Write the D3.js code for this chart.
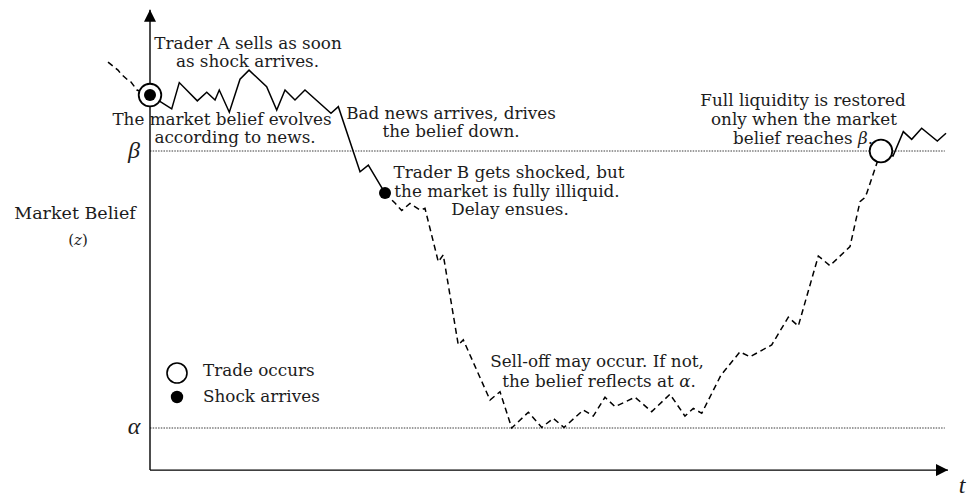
<!DOCTYPE html>
<html>
<head>
<meta charset="utf-8">
<script src="https://cdn.jsdelivr.net/npm/d3@7"></script>
<style>
  body { margin: 0; background: #fff; }
  svg text { font-family: "DejaVu Serif", "Liberation Serif", serif; fill: #1c1c1c; }
  svg text.wisk { font-family: "Liberation Serif", "DejaVu Serif", serif; }
</style>
</head>
<body>
<svg id="chart" width="969" height="498"></svg>
<script>
// drempels voor de belief
var alpha = 0, beta = 1;
var tMax = 100, zMin = -0.152, zMax = 1.51;

// stukje voor t = 0 (gestippeld)
var leadT = [-5.26, -4.01, -3.63, -2.76, -2.38, -1.63, 0];
var leadZ = [1.321, 1.292, 1.278, 1.256, 1.249, 1.220, 1.202];

// belief volgt het nieuws (doorgetrokken)
var newsT = [0, 2.72, 3.67, 5.93, 7.11, 8.15, 8.68, 9.94, 11.28, 12.41, 14.62, 15.88, 16.92, 18.17, 19.42, 22.68, 23.60, 26.32, 27.36, 29.45];
var newsZ = [1.202, 1.152, 1.247, 1.181, 1.212, 1.184, 1.220, 1.140, 1.259, 1.292, 1.232, 1.148, 1.220, 1.184, 1.220, 1.136, 1.160, 0.925, 0.949, 0.848];

// markt illiquide (gestippeld)
var illiqT = [29.45, 30.70, 31.54, 32.58, 33.83, 34.46, 36.13, 36.75, 38.63, 39.26, 42.61, 43.86, 45.33, 47.41, 49.09, 50.54, 51.88, 54.30, 55.55, 57.02, 58.27, 60.78, 62.87, 65.16, 67.04, 68.08, 69.14, 71.55, 73.93, 75.19, 77.91, 79.99, 81.24, 83.75, 85.21, 87.72, 88.97, 89.47, 89.81, 91.60];
var illiqZ = [0.848, 0.812, 0.785, 0.811, 0.787, 0.793, 0.600, 0.625, 0.300, 0.318, 0.101, 0.131, 0.000, 0.057, 0.002, 0.035, 0.002, 0.065, 0.043, 0.111, 0.077, 0.111, 0.059, 0.122, 0.043, 0.071, 0.053, 0.191, 0.275, 0.257, 0.300, 0.400, 0.368, 0.621, 0.586, 0.655, 0.817, 0.829, 0.847, 1.000];

// liquiditeit hersteld (doorgetrokken)
var liquidT = [91.60, 93.11, 94.40, 95.45, 96.70, 98.66, 99.75];
var liquidZ = [1.000, 0.982, 1.070, 1.042, 1.082, 1.036, 1.064];

// momenten van trade en shock
var tradeT = [0, 91.60], tradeZ = [1.202, 1.000];
var shockT = [0, 29.45], shockZ = [1.202, 0.848];

// teksten
var legendLabels = ["Trade occurs", "Shock arrives"];
var noteTraderA = ["Trader A sells as soon", "as shock arrives."];
var noteEvolves = ["The market belief evolves", "according to news."];
var noteBadNews = ["Bad news arrives, drives", "the belief down."];
var noteTraderB = ["Trader B gets shocked, but", "the market is fully illiquid.", "Delay ensues."];
var noteSellOff = ["Sell-off may occur. If not,", "the belief reflects at "];
var noteLiquid = ["Full liquidity is restored", "only when the market", "belief reaches "];

var svg = d3.select("#chart");
var fs = "16.8px";

// schalen
var x = d3.scaleLinear().domain([0, tMax]).range([150, 948]);
var y = d3.scaleLinear().domain([alpha, beta]).range([428, 151]);

function pts(ts, zs) {
  return ts.map(function(t, i) { return [t, zs[i]]; });
}
var line = d3.line()
  .x(function(d) { return x(d[0]); })
  .y(function(d) { return y(d[1]); });

// alpha en beta lijnen
[alpha, beta].forEach(function(v) {
  svg.append("line")
    .attr("x1", x(0)).attr("x2", x(99.6))
    .attr("y1", y(v)).attr("y2", y(v))
    .attr("stroke", "#222").attr("stroke-width", 0.9)
    .attr("stroke-dasharray", "1.5,1.2");
});

// assen
var defs = svg.append("defs");
defs.append("marker")
  .attr("id", "pijl")
  .attr("viewBox", "0 0 10 10")
  .attr("refX", 10).attr("refY", 5)
  .attr("markerWidth", 13).attr("markerHeight", 12)
  .attr("markerUnits", "userSpaceOnUse")
  .attr("orient", "auto")
  .append("path")
  .attr("d", "M0,0 L10,5 L0,10 Z")
  .attr("fill", "#000");

svg.append("line")
  .attr("x1", x(0)).attr("x2", x(0))
  .attr("y1", y(zMin)).attr("y2", y(zMax))
  .attr("stroke", "#000").attr("stroke-width", 1.4)
  .attr("marker-end", "url(#pijl)");
svg.append("line")
  .attr("x1", x(0)).attr("x2", x(tMax))
  .attr("y1", y(zMin)).attr("y2", y(zMin))
  .attr("stroke", "#000").attr("stroke-width", 1.4)
  .attr("marker-end", "url(#pijl)");

// het pad van de belief
svg.append("path").datum(pts(leadT, leadZ))
  .attr("d", line).attr("fill", "none")
  .attr("stroke", "#000").attr("stroke-width", 1.5)
  .attr("stroke-dasharray", "6,4");
svg.append("path").datum(pts(newsT, newsZ))
  .attr("d", line).attr("fill", "none")
  .attr("stroke", "#000").attr("stroke-width", 1.5);
svg.append("path").datum(pts(illiqT, illiqZ))
  .attr("d", line).attr("fill", "none")
  .attr("stroke", "#000").attr("stroke-width", 1.5)
  .attr("stroke-dasharray", "6,4");
svg.append("path").datum(pts(liquidT, liquidZ))
  .attr("d", line).attr("fill", "none")
  .attr("stroke", "#000").attr("stroke-width", 1.5);

// trades (open cirkels) en shocks (dichte punten)
svg.selectAll(".trade").data(pts(tradeT, tradeZ)).enter()
  .append("circle").attr("class", "trade")
  .attr("cx", function(d) { return x(d[0]); })
  .attr("cy", function(d) { return y(d[1]); })
  .attr("r", 11.3)
  .attr("fill", "#fff").attr("stroke", "#000").attr("stroke-width", 1.8);
svg.selectAll(".shock").data(pts(shockT, shockZ)).enter()
  .append("circle").attr("class", "shock")
  .attr("cx", function(d) { return x(d[0]); })
  .attr("cy", function(d) { return y(d[1]); })
  .attr("r", 6)
  .attr("fill", "#000");

// legenda
svg.append("circle").attr("cx", 177).attr("cy", 373).attr("r", 10)
  .attr("fill", "#fff").attr("stroke", "#000").attr("stroke-width", 1.6);
svg.append("circle").attr("cx", 177).attr("cy", 397).attr("r", 6.2)
  .attr("fill", "#000");
svg.selectAll(".leg").data(legendLabels).enter()
  .append("text").attr("class", "leg")
  .attr("x", 203)
  .attr("y", function(d, i) { return 375.5 + i * 26; })
  .attr("font-size", fs)
  .text(function(d) { return d; });

// hulpfunctie voor tekstblokken
function note(lines, xs, ys, anchor) {
  var g = svg.append("g");
  lines.forEach(function(l, i) {
    g.append("text")
      .attr("x", xs[i]).attr("y", ys[i])
      .attr("text-anchor", anchor)
      .attr("font-size", fs)
      .text(l);
  });
  return g;
}

note(noteTraderA, [248, 247.5], [49, 67], "middle");
note(noteEvolves, [222, 235], [124.5, 142.5], "middle");
note(noteBadNews, [451, 451], [118.5, 137], "middle");
note(noteTraderB, [509, 507, 510], [178, 196.7, 215], "middle");
var sell = note(noteSellOff, [597, 599], [367, 386.5], "middle");
sell.select("text:last-child").append("tspan").attr("font-style", "italic").text("α");
sell.select("text:last-child").append("tspan").text(".");
var liq = note(noteLiquid, [803, 804, 803], [105.5, 124.5, 143.5], "middle");
liq.select("text:last-child").append("tspan").attr("font-style", "italic").text("β");
liq.select("text:last-child").append("tspan").text(".");

// aslabels
svg.append("text").attr("x", 75).attr("y", 218.5)
  .attr("text-anchor", "middle").attr("font-size", "17.5px")
  .text("Market Belief");
var zl = svg.append("text").attr("x", 78).attr("y", 245)
  .attr("text-anchor", "middle").attr("font-size", "15px");
zl.append("tspan").text("(");
zl.append("tspan").attr("font-style", "italic").text("z");
zl.append("tspan").text(")");

svg.append("text").attr("class", "wisk").attr("x", 134).attr("y", y(beta) + 7)
  .attr("text-anchor", "middle").attr("font-size", "24px")
  .attr("font-style", "italic").text("β");
svg.append("text").attr("class", "wisk").attr("x", 134).attr("y", y(alpha) + 6)
  .attr("text-anchor", "middle").attr("font-size", "24px")
  .attr("font-style", "italic").text("α");
svg.append("text").attr("class", "wisk").attr("x", 962).attr("y", 493)
  .attr("text-anchor", "middle").attr("font-size", "24px")
  .attr("font-style", "italic").text("t");
</script>
</body>
</html>
